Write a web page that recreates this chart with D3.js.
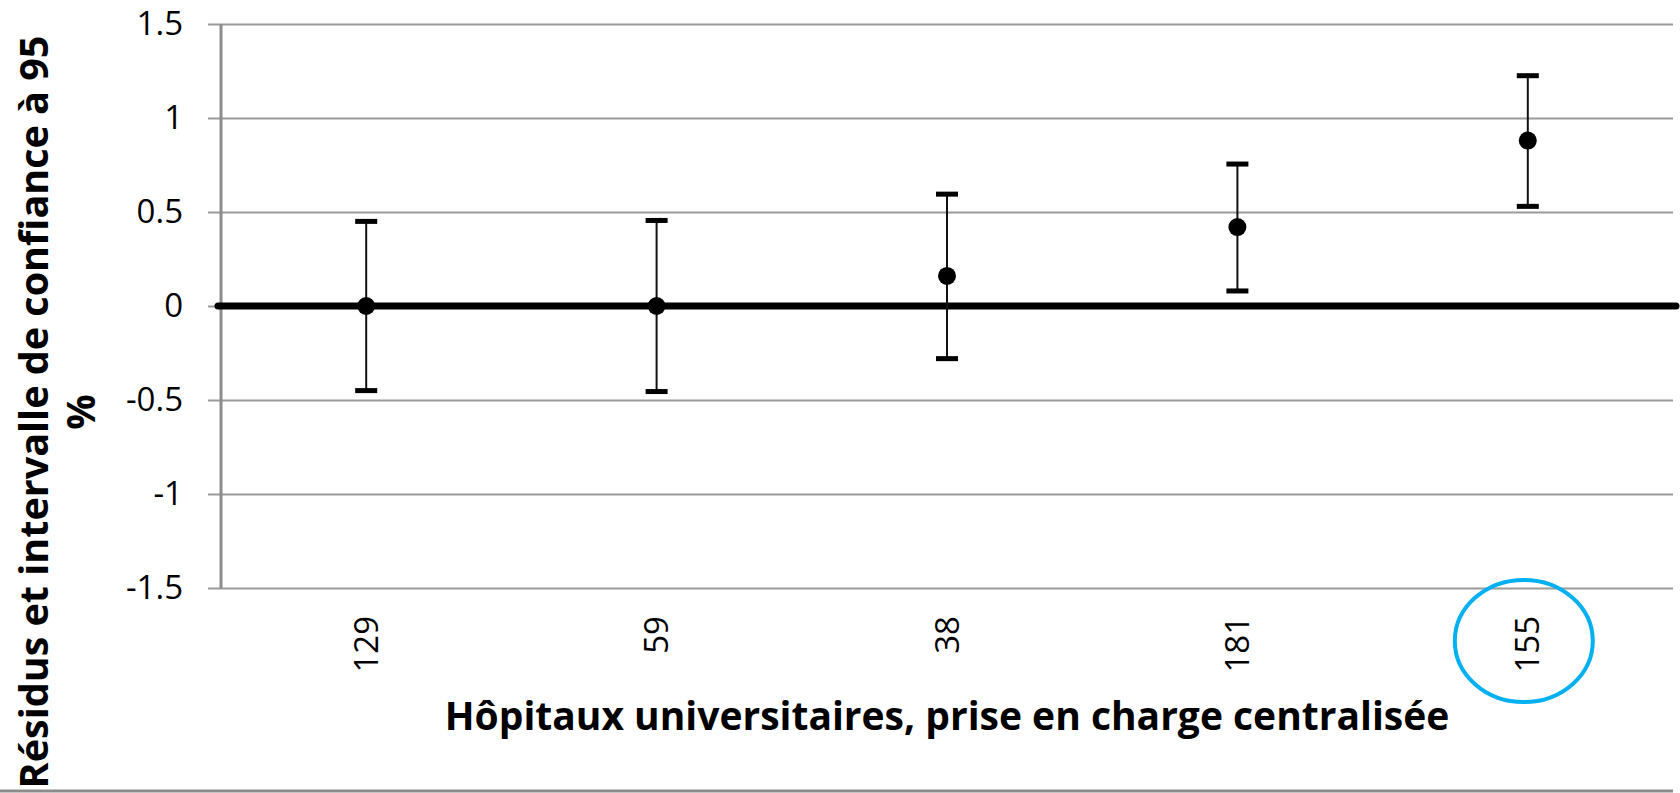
<!DOCTYPE html>
<html>
<head>
<meta charset="utf-8">
<script src="https://cdn.jsdelivr.net/npm/d3@7"></script>
<style>
  body { margin: 0; background: #fff; }
  text { font-family: "Open Sans", "Noto Sans", sans-serif; fill: #000; }
</style>
</head>
<body>
<div id="chart"></div>
<script>
// Data
const categories = ["129", "59", "38", "181", "155"];
const residuals = [0, 0, 0.16, 0.42, 0.88];
const lowerCI = [-0.45, -0.455, -0.28, 0.08, 0.53];
const upperCI = [0.45, 0.455, 0.595, 0.755, 1.225];
const yTicks = [-1.5, -1, -0.5, 0, 0.5, 1, 1.5];
const highlighted = "155";

const width = 1680;
const height = 793;
const margin = { top: 24, right: 7, bottom: 205, left: 221 };

const svg = d3.select("#chart")
    .append("svg")
    .attr("width", width)
    .attr("height", height);

const x = d3.scaleBand()
    .domain(categories)
    .range([margin.left, width - margin.right])
    .padding(0);

const y = d3.scaleLinear()
    .domain([-1.5, 1.5])
    .range([height - margin.bottom, margin.top]);

const points = categories.map((c, i) => ({
    cat: c, value: residuals[i], lo: lowerCI[i], hi: upperCI[i]
}));

// Gridlines + left ticks (plain hyphen for negatives, like the original)
const yAxis = svg.append("g")
    .attr("transform", `translate(${margin.left},0)`)
    .call(d3.axisLeft(y)
        .tickValues(yTicks)
        .tickSize(-(width - margin.left - margin.right))
        .tickPadding(38)
        .tickFormat(d => String(d)));

yAxis.select(".domain").remove();
yAxis.selectAll(".tick line")
    .attr("stroke", "#9a9a9a")
    .attr("stroke-width", 2)
    .attr("x1", -13);
yAxis.selectAll(".tick text")
    .style("font-size", "33px")
    .attr("fill", "#000");

// Vertical axis line
svg.append("line")
    .attr("x1", margin.left).attr("x2", margin.left)
    .attr("y1", y(1.5)).attr("y2", y(-1.5))
    .attr("stroke", "#8c8c8c")
    .attr("stroke-width", 3);

// Zero line (thick)
svg.append("line")
    .attr("x1", margin.left - 3)
    .attr("x2", width - margin.right + 3)
    .attr("y1", y(0)).attr("y2", y(0))
    .attr("stroke", "#000")
    .attr("stroke-width", 7)
    .attr("stroke-linecap", "round");

// X category labels, rotated
const xAxis = svg.append("g")
    .attr("transform", `translate(0,${y(-1.5)})`)
    .call(d3.axisBottom(x).tickSize(0));
xAxis.select(".domain").remove();
xAxis.selectAll(".tick text")
    .style("font-size", "33px")
    .attr("transform", "rotate(-90)")
    .attr("text-anchor", "end")
    .attr("dy", "0.35em")
    .attr("x", -28)
    .attr("y", 0);

// Error bars
const cx = d => x(d.cat) + x.bandwidth() / 2;
const bars = svg.append("g").selectAll("g")
    .data(points)
    .enter().append("g");

bars.append("line")
    .attr("x1", cx).attr("x2", cx)
    .attr("y1", d => y(d.hi)).attr("y2", d => y(d.lo))
    .attr("stroke", "#111")
    .attr("stroke-width", 2);

bars.selectAll("rect.cap")
    .data(d => [d.hi, d.lo].map(v => ({ x: cx(d), v })))
    .enter().append("rect")
    .attr("class", "cap")
    .attr("x", d => d.x - 11)
    .attr("y", d => y(d.v) - 2.5)
    .attr("width", 22)
    .attr("height", 5)
    .attr("fill", "#000");

bars.append("circle")
    .attr("cx", cx)
    .attr("cy", d => y(d.value))
    .attr("r", 9)
    .attr("fill", "#000");

// Axis titles
svg.append("text")
    .attr("x", (margin.left + width - margin.right) / 2)
    .attr("y", 730)
    .attr("text-anchor", "middle")
    .style("font-size", "39px")
    .style("font-weight", "bold")
    .text("Hôpitaux universitaires, prise en charge centralisée");

const yTitle = svg.append("text")
    .attr("transform", "translate(48,412) rotate(-90)")
    .attr("text-anchor", "middle")
    .style("font-size", "39.5px")
    .style("font-weight", "bold");
yTitle.append("tspan").attr("x", 0).attr("y", 0)
    .text("Résidus et intervalle de confiance à 95");
yTitle.append("tspan").attr("x", 0).attr("y", 47)
    .text("%");

// Highlight ring around one category label
svg.append("ellipse")
    .attr("cx", x(highlighted) + x.bandwidth() / 2 - 4)
    .attr("cy", 641)
    .attr("rx", 69)
    .attr("ry", 61)
    .attr("fill", "none")
    .attr("stroke", "#00b0f0")
    .attr("stroke-width", 4);

// Bottom frame line
svg.append("line")
    .attr("x1", 0).attr("x2", width - margin.right)
    .attr("y1", 791).attr("y2", 791)
    .attr("stroke", "#8c8c8c")
    .attr("stroke-width", 3);
</script>
</body>
</html>
